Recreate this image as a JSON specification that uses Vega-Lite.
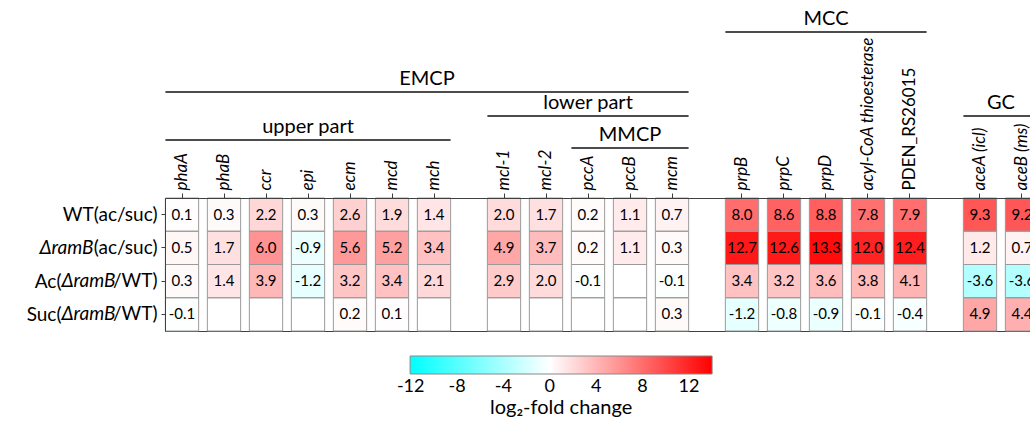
{
  "$schema": "https://vega.github.io/schema/vega-lite/v6.json",
  "width": 865,
  "height": 133,
  "autosize": {"type": "none"},
  "padding": {"left": 165, "top": 198, "right": 0, "bottom": 96},
  "config": {
    "font": "Lato, Noto Sans, sans-serif",
    "view": {"stroke": null},
    "locale": {"number": {"decimal": ".", "thousands": ",", "grouping": [3], "currency": ["", ""], "minus": "-"}},
    "axis": {"domainColor": "#404040", "tickColor": "#404040", "labelColor": "#000000", "domainWidth": 1, "tickWidth": 1}
  },
  "datasets": {
    "cells": [
      {"gene": "phaA", "cond": "WT(ac/suc)", "v": 0.1},
      {"gene": "phaA", "cond": "ΔramB(ac/suc)", "v": 0.5},
      {"gene": "phaA", "cond": "Ac(ΔramB/WT)", "v": 0.3},
      {"gene": "phaA", "cond": "Suc(ΔramB/WT)", "v": -0.1},
      {"gene": "phaB", "cond": "WT(ac/suc)", "v": 0.3},
      {"gene": "phaB", "cond": "ΔramB(ac/suc)", "v": 1.7},
      {"gene": "phaB", "cond": "Ac(ΔramB/WT)", "v": 1.4},
      {"gene": "phaB", "cond": "Suc(ΔramB/WT)", "v": null},
      {"gene": "ccr", "cond": "WT(ac/suc)", "v": 2.2},
      {"gene": "ccr", "cond": "ΔramB(ac/suc)", "v": 6.0},
      {"gene": "ccr", "cond": "Ac(ΔramB/WT)", "v": 3.9},
      {"gene": "ccr", "cond": "Suc(ΔramB/WT)", "v": null},
      {"gene": "epi", "cond": "WT(ac/suc)", "v": 0.3},
      {"gene": "epi", "cond": "ΔramB(ac/suc)", "v": -0.9},
      {"gene": "epi", "cond": "Ac(ΔramB/WT)", "v": -1.2},
      {"gene": "epi", "cond": "Suc(ΔramB/WT)", "v": null},
      {"gene": "ecm", "cond": "WT(ac/suc)", "v": 2.6},
      {"gene": "ecm", "cond": "ΔramB(ac/suc)", "v": 5.6},
      {"gene": "ecm", "cond": "Ac(ΔramB/WT)", "v": 3.2},
      {"gene": "ecm", "cond": "Suc(ΔramB/WT)", "v": 0.2},
      {"gene": "mcd", "cond": "WT(ac/suc)", "v": 1.9},
      {"gene": "mcd", "cond": "ΔramB(ac/suc)", "v": 5.2},
      {"gene": "mcd", "cond": "Ac(ΔramB/WT)", "v": 3.4},
      {"gene": "mcd", "cond": "Suc(ΔramB/WT)", "v": 0.1},
      {"gene": "mch", "cond": "WT(ac/suc)", "v": 1.4},
      {"gene": "mch", "cond": "ΔramB(ac/suc)", "v": 3.4},
      {"gene": "mch", "cond": "Ac(ΔramB/WT)", "v": 2.1},
      {"gene": "mch", "cond": "Suc(ΔramB/WT)", "v": null},
      {"gene": "mcl-1", "cond": "WT(ac/suc)", "v": 2.0},
      {"gene": "mcl-1", "cond": "ΔramB(ac/suc)", "v": 4.9},
      {"gene": "mcl-1", "cond": "Ac(ΔramB/WT)", "v": 2.9},
      {"gene": "mcl-1", "cond": "Suc(ΔramB/WT)", "v": null},
      {"gene": "mcl-2", "cond": "WT(ac/suc)", "v": 1.7},
      {"gene": "mcl-2", "cond": "ΔramB(ac/suc)", "v": 3.7},
      {"gene": "mcl-2", "cond": "Ac(ΔramB/WT)", "v": 2.0},
      {"gene": "mcl-2", "cond": "Suc(ΔramB/WT)", "v": null},
      {"gene": "pccA", "cond": "WT(ac/suc)", "v": 0.2},
      {"gene": "pccA", "cond": "ΔramB(ac/suc)", "v": 0.2},
      {"gene": "pccA", "cond": "Ac(ΔramB/WT)", "v": -0.1},
      {"gene": "pccA", "cond": "Suc(ΔramB/WT)", "v": null},
      {"gene": "pccB", "cond": "WT(ac/suc)", "v": 1.1},
      {"gene": "pccB", "cond": "ΔramB(ac/suc)", "v": 1.1},
      {"gene": "pccB", "cond": "Ac(ΔramB/WT)", "v": null},
      {"gene": "pccB", "cond": "Suc(ΔramB/WT)", "v": null},
      {"gene": "mcm", "cond": "WT(ac/suc)", "v": 0.7},
      {"gene": "mcm", "cond": "ΔramB(ac/suc)", "v": 0.3},
      {"gene": "mcm", "cond": "Ac(ΔramB/WT)", "v": -0.1},
      {"gene": "mcm", "cond": "Suc(ΔramB/WT)", "v": 0.3},
      {"gene": "prpB", "cond": "WT(ac/suc)", "v": 8.0},
      {"gene": "prpB", "cond": "ΔramB(ac/suc)", "v": 12.7},
      {"gene": "prpB", "cond": "Ac(ΔramB/WT)", "v": 3.4},
      {"gene": "prpB", "cond": "Suc(ΔramB/WT)", "v": -1.2},
      {"gene": "prpC", "cond": "WT(ac/suc)", "v": 8.6},
      {"gene": "prpC", "cond": "ΔramB(ac/suc)", "v": 12.6},
      {"gene": "prpC", "cond": "Ac(ΔramB/WT)", "v": 3.2},
      {"gene": "prpC", "cond": "Suc(ΔramB/WT)", "v": -0.8},
      {"gene": "prpD", "cond": "WT(ac/suc)", "v": 8.8},
      {"gene": "prpD", "cond": "ΔramB(ac/suc)", "v": 13.3},
      {"gene": "prpD", "cond": "Ac(ΔramB/WT)", "v": 3.6},
      {"gene": "prpD", "cond": "Suc(ΔramB/WT)", "v": -0.9},
      {"gene": "acyl-CoA thioesterase", "cond": "WT(ac/suc)", "v": 7.8},
      {"gene": "acyl-CoA thioesterase", "cond": "ΔramB(ac/suc)", "v": 12.0},
      {"gene": "acyl-CoA thioesterase", "cond": "Ac(ΔramB/WT)", "v": 3.8},
      {"gene": "acyl-CoA thioesterase", "cond": "Suc(ΔramB/WT)", "v": -0.1},
      {"gene": "PDEN_RS26015", "cond": "WT(ac/suc)", "v": 7.9},
      {"gene": "PDEN_RS26015", "cond": "ΔramB(ac/suc)", "v": 12.4},
      {"gene": "PDEN_RS26015", "cond": "Ac(ΔramB/WT)", "v": 4.1},
      {"gene": "PDEN_RS26015", "cond": "Suc(ΔramB/WT)", "v": -0.4},
      {"gene": "aceA (icl)", "cond": "WT(ac/suc)", "v": 9.3},
      {"gene": "aceA (icl)", "cond": "ΔramB(ac/suc)", "v": 1.2},
      {"gene": "aceA (icl)", "cond": "Ac(ΔramB/WT)", "v": -3.6},
      {"gene": "aceA (icl)", "cond": "Suc(ΔramB/WT)", "v": 4.9},
      {"gene": "aceB (ms)", "cond": "WT(ac/suc)", "v": 9.2},
      {"gene": "aceB (ms)", "cond": "ΔramB(ac/suc)", "v": 0.7},
      {"gene": "aceB (ms)", "cond": "Ac(ΔramB/WT)", "v": -3.6},
      {"gene": "aceB (ms)", "cond": "Suc(ΔramB/WT)", "v": 4.4}
    ],
    "groups": [
      {"name": "MCC", "from": "prpB", "to": "PDEN_RS26015", "mid": "prpD", "level": 1},
      {"name": "EMCP", "from": "phaA", "to": "mcm", "mid": "gap12", "level": 2},
      {"name": "lower part", "from": "mcl-1", "to": "mcm", "mid": "pccA", "level": 3},
      {"name": "GC", "from": "aceA (icl)", "to": "aceB (ms)", "mid": "gap41", "level": 3},
      {"name": "upper part", "from": "phaA", "to": "mch", "mid": "epi", "level": 4},
      {"name": "MMCP", "from": "pccA", "to": "mcm", "mid": "pccB", "level": 5}
    ]
  },
  "layer": [
    {
      "data": {"name": "cells"},
      "mark": {"type": "rect", "width": 33.3, "fill": "#ffffff"},
      "encoding": {
        "x": {
          "field": "gene",
          "type": "nominal",
          "scale": {
            "domain": ["phaA", "gap1", "gap2", "phaB", "gap3", "gap4", "ccr", "gap5", "gap6", "epi", "gap7", "gap8", "ecm", "gap9", "gap10", "mcd", "gap11", "gap12", "mch", "gap13", "gap14", "gap15", "gap16", "mcl-1", "gap17", "gap18", "mcl-2", "gap19", "gap20", "pccA", "gap21", "gap22", "pccB", "gap23", "gap24", "mcm", "gap25", "gap26", "gap27", "gap28", "prpB", "gap29", "gap30", "prpC", "gap31", "gap32", "prpD", "gap33", "gap34", "acyl-CoA thioesterase", "gap35", "gap36", "PDEN_RS26015", "gap37", "gap38", "gap39", "gap40", "aceA (icl)", "gap41", "gap42", "aceB (ms)"],
            "paddingInner": 0,
            "paddingOuter": 0.393,
            "align": 0.909
          },
          "axis": {
            "orient": "top",
            "title": null,
            "values": ["phaA", "phaB", "ccr", "epi", "ecm", "mcd", "mch", "mcl-1", "mcl-2", "pccA", "pccB", "mcm", "prpB", "prpC", "prpD", "acyl-CoA thioesterase", "PDEN_RS26015", "aceA (icl)", "aceB (ms)"],
            "labelAngle": -90,
            "labelAlign": "left",
            "labelBaseline": "middle",
            "labelFontSize": 17,
            "labelFontStyle": {"condition": {"test": "datum.value === 'PDEN_RS26015'", "value": "normal"}, "value": "italic"},
            "tickSize": 5,
            "labelPadding": 3,
            "labelLimit": 300
          }
        },
        "y": {
          "field": "cond",
          "type": "nominal",
          "scale": {"domain": ["WT(ac/suc)", "ΔramB(ac/suc)", "Ac(ΔramB/WT)", "Suc(ΔramB/WT)"], "paddingInner": 0, "paddingOuter": 0},
          "axis": {
            "title": null,
            "orient": "left",
            "labelFontSize": 19,
            "tickSize": 4,
            "labelPadding": 4,
            "labelLimit": 300,
            "labelExpr": "datum.value === 'WT(ac/suc)' ? 'WT(ac/suc)' : datum.value === 'ΔramB(ac/suc)' ? '(ac/suc)' : '/WT)'"
          }
        }
      }
    },
    {
      "data": {"name": "cells"},
      "transform": [{"filter": "datum.v != null"}],
      "mark": {"type": "rect", "width": 33.3},
      "encoding": {
        "x": {"field": "gene", "type": "nominal", "axis": null},
        "y": {
          "field": "cond",
          "type": "nominal",
          "scale": {"domain": ["WT(ac/suc)", "ΔramB(ac/suc)", "Ac(ΔramB/WT)", "Suc(ΔramB/WT)"], "paddingInner": 0, "paddingOuter": 0},
          "axis": {
            "title": null,
            "orient": "left",
            "domain": false,
            "tickSize": 4,
            "tickOpacity": 0,
            "labelPadding": 68,
            "labelFontSize": 19,
            "labelFontStyle": "italic",
            "labelLimit": 300,
            "labelExpr": "datum.value === 'ΔramB(ac/suc)' ? 'ΔramB' : ''"
          }
        },
        "color": {
          "field": "v",
          "type": "quantitative",
          "scale": {"type": "linear", "domain": [-12.05, 0, 14], "range": ["#00ffff", "#ffffff", "#ff0000"], "interpolate": "rgb"},
          "legend": {
            "orient": "none",
            "legendX": 245.1,
            "legendY": 158,
            "direction": "horizontal",
            "gradientLength": 302,
            "gradientThickness": 18,
            "gradientStrokeColor": "#888888",
            "gradientStrokeWidth": 1,
            "values": [-12, -8, -4, 0, 4, 8, 12],
            "title": "log₂-fold change",
            "titleOrient": "bottom",
            "titleAnchor": "middle",
            "titleFontSize": 20,
            "titleFontWeight": "normal",
            "titleColor": "#000000",
            "titlePadding": 2,
            "labelFontSize": 18,
            "labelColor": "#000000",
            "labelOffset": 4,
            "padding": 0
          }
        }
      }
    },
    {
      "data": {"name": "cells"},
      "mark": {"type": "rect", "width": 33.3, "fillOpacity": 0, "stroke": "#9a9a9a", "strokeWidth": 1},
      "encoding": {
        "x": {"field": "gene", "type": "nominal", "axis": null},
        "y": {
          "field": "cond",
          "type": "nominal",
          "scale": {"domain": ["WT(ac/suc)", "ΔramB(ac/suc)", "Ac(ΔramB/WT)", "Suc(ΔramB/WT)"], "paddingInner": 0, "paddingOuter": 0},
          "axis": {
            "title": null,
            "orient": "left",
            "domain": false,
            "tickSize": 4,
            "tickOpacity": 0,
            "labelPadding": 46,
            "labelFontSize": 19,
            "labelFontStyle": "italic",
            "labelLimit": 300,
            "labelExpr": "datum.value === 'Ac(ΔramB/WT)' || datum.value === 'Suc(ΔramB/WT)' ? 'ΔramB' : ''"
          }
        }
      }
    },
    {
      "data": {"name": "cells"},
      "transform": [{"filter": "datum.v != null"}],
      "mark": {"type": "text", "fontSize": 15, "color": "#000000"},
      "encoding": {
        "x": {"field": "gene", "type": "nominal", "axis": null},
        "y": {
          "field": "cond",
          "type": "nominal",
          "scale": {"domain": ["WT(ac/suc)", "ΔramB(ac/suc)", "Ac(ΔramB/WT)", "Suc(ΔramB/WT)"], "paddingInner": 0, "paddingOuter": 0},
          "axis": {
            "title": null,
            "orient": "left",
            "domain": false,
            "tickSize": 4,
            "tickOpacity": 0,
            "labelPadding": 100,
            "labelFontSize": 19,
            "labelLimit": 300,
            "labelExpr": "datum.value === 'Ac(ΔramB/WT)' ? 'Ac(' : datum.value === 'Suc(ΔramB/WT)' ? 'Suc(' : ''"
          }
        },
        "text": {"field": "v", "type": "quantitative", "format": ".1f"}
      }
    },
    {
      "data": {"name": "groups"},
      "mark": {"type": "rule", "color": "#111111", "strokeWidth": 1.3, "xOffset": -16.6, "x2Offset": 16.6},
      "encoding": {
        "x": {"field": "from", "type": "nominal", "axis": {"orient": "bottom", "labels": false, "ticks": false, "title": null, "domain": true}},
        "x2": {"field": "to"},
        "y": {"field": "level", "type": "quantitative", "scale": {"domain": [1, 2, 3, 4, 5], "range": [-166, -106, -82, -58, -50], "nice": false, "zero": false}, "axis": null}
      }
    },
    {
      "data": {"name": "groups"},
      "transform": [{"filter": "indexof(datum.mid, 'gap') !== 0"}],
      "mark": {"type": "text", "fontSize": 20, "dy": -7, "baseline": "alphabetic", "align": "center", "color": "#000000"},
      "encoding": {
        "x": {"field": "mid", "type": "nominal", "axis": null},
        "y": {"field": "level", "type": "quantitative", "scale": {"domain": [1, 2, 3, 4, 5], "range": [-166, -106, -82, -58, -50], "nice": false, "zero": false}, "axis": null},
        "text": {"field": "name"}
      }
    },
    {
      "data": {"name": "groups"},
      "transform": [{"filter": "indexof(datum.mid, 'gap') === 0"}],
      "mark": {"type": "text", "fontSize": 20, "dy": -7, "baseline": "alphabetic", "align": "center", "color": "#000000"},
      "encoding": {
        "x": {"field": "mid", "type": "nominal", "bandPosition": 1, "axis": null},
        "y": {"field": "level", "type": "quantitative", "scale": {"domain": [1, 2, 3, 4, 5], "range": [-166, -106, -82, -58, -50], "nice": false, "zero": false}, "axis": null},
        "text": {"field": "name"}
      }
    }
  ],
  "resolve": {"scale": {"y": "independent"}, "axis": {"x": "independent", "y": "independent"}}
}
